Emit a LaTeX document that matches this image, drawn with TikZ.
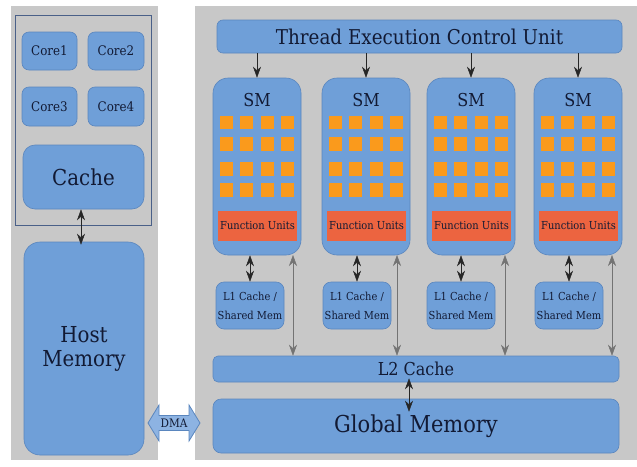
\documentclass[tikz,border=0pt]{standalone}
\usepackage{fontspec}
\setmainfont{DejaVu Serif}[FakeStretch=0.9]
\usetikzlibrary{arrows.meta}
\definecolor{bggray}{HTML}{C8C8C8}
\definecolor{boxblue}{HTML}{6F9FD8}
\definecolor{boxedge}{HTML}{5A86BE}
\definecolor{sqorange}{HTML}{FA9A1C}
\definecolor{fured}{HTML}{EC6440}
\definecolor{txt}{HTML}{121A34}
\definecolor{frame}{HTML}{4A6088}
\definecolor{dmafill}{HTML}{8DB3E2}
\newcommand{\fs}[2]{\fontsize{#1}{#2}\selectfont}
\tikzset{
  panel/.style={fill=bggray, draw=none},
  bbox/.style={fill=boxblue, draw=boxedge, line width=0.6pt, text=txt, inner sep=0pt, align=center},
  sq/.style={fill=sqorange, draw=none, minimum width=13pt, minimum height=13.5pt, inner sep=0pt},
  fubox/.style={fill=fured, draw=none, minimum width=79pt, minimum height=30pt, inner sep=0pt, text=txt},
  tip/.tip={Stealth[length=11pt,width=8pt]},
  arr/.style={-tip, line width=0.5pt, draw=black!85},
  darr/.style={tip-tip, line width=0.5pt, draw=black!85},
  garr/.style={tip-tip, line width=0.5pt, draw=black!55}
}
\begin{document}
\begin{tikzpicture}[x=1pt,y=-1pt]
\useasboundingbox[fill=white] (0,0) rectangle (637,466);
% panels
\node[panel, minimum width=147pt, minimum height=454pt, inner sep=0pt] (hostpanel) at (84.5,233) {};
\node[panel, minimum width=442pt, minimum height=454pt, inner sep=0pt] (gpupanel) at (416,233) {};
\node[draw=frame, line width=0.7pt, minimum width=136pt, minimum height=210pt, inner sep=0pt] (cpu) at (83,120) {};
% CPU
\node[bbox, rounded corners=7pt, minimum width=55pt, minimum height=38pt, font=\fs{13.2}{15}] (core1) at (49.5,51) {Core1};
\node[bbox, rounded corners=7pt, minimum width=56pt, minimum height=38pt, font=\fs{13.2}{15}] (core2) at (116,51) {Core2};
\node[bbox, rounded corners=7pt, minimum width=55pt, minimum height=39pt, font=\fs{13.2}{15}] (core3) at (49.5,106.5) {Core3};
\node[bbox, rounded corners=7pt, minimum width=56pt, minimum height=39pt, font=\fs{13.2}{15}] (core4) at (116,106.5) {Core4};
\node[bbox, rounded corners=12pt, minimum width=121pt, minimum height=64pt, font=\fs{22}{26}] (cache) at (83.5,177) {Cache};
\node[bbox, rounded corners=16pt, minimum width=120pt, minimum height=213pt, font=\fs{22}{24}] (host) at (84,348.5) {Host\\Memory};
\draw[darr] ([yshift=-3pt]host.north -| 81,0) -- (cache.south -| 81,0);
% DMA
\draw[fill=dmafill, draw=boxedge, line width=0.8pt] (148,423) -- (159,405) -- (159,415.5) -- (189,415.5) -- (189,405) -- (200,423) -- (189,441) -- (189,430.5) -- (159,430.5) -- (159,441) -- cycle;
\node[text=txt, inner sep=0pt, font=\fs{11.7}{14}] (dma) at (174,423) {DMA};
% GPU
\node[bbox, rounded corners=6pt, minimum width=405pt, minimum height=33pt, font=\fs{20.4}{24}] (tecu) at (419.5,36.5) {Thread Execution Control Unit};
\node[bbox, rounded corners=5pt, minimum width=406pt, minimum height=26pt, font=\fs{17.8}{21}] (l2) at (416,369) {L2 Cache};
\node[bbox, rounded corners=8pt, minimum width=406pt, minimum height=54pt, font=\fs{23.3}{27}] (gmem) at (416,426) {Global Memory};
\draw[darr] ([yshift=4pt]l2.south -| 409,0) -- ([yshift=-13pt]gmem.north -| 409,0);
\foreach \i/\xl/\lc/\tx in {1/213/250/293, 2/322/357/397, 3/427/461/505, 4/534/569/612}{
  \node[bbox, rounded corners=15pt, minimum width=88pt, minimum height=177pt] (sm\i) at (\xl+44,166.5) {};
  \node[text=txt, inner sep=0pt, font=\fs{17.8}{21}] (smlabel\i) at (\xl+44,100) {SM};
  \foreach \r/\ry in {1/122.5, 2/144, 3/169, 4/190}{
    \foreach \c/\cx in {1/13.5, 2/33.5, 3/54.5, 4/74.5}{
      \node[sq] (sq\i-\r-\c) at (\xl+\cx,\ry) {};
    }
  }
  \node[fubox, font=\fs{11}{13}] (fu\i) at (\xl+44.5,226) {Function Units};
  \node[bbox, rounded corners=8pt, minimum width=68pt, minimum height=47pt, font=\fs{11}{19}] (l1\i) at (\lc,305.5) {L1 Cache /\\Shared Mem};
  \draw[arr] (sm\i.north |- tecu.south) -- (sm\i.north);
  \draw[darr] (l1\i.north |- sm\i.south) -- (l1\i.north);
  \coordinate (tp\i) at (\tx,255);
  \draw[garr] (tp\i) -- (tp\i |- l2.north);
}
\end{tikzpicture}
\end{document}
